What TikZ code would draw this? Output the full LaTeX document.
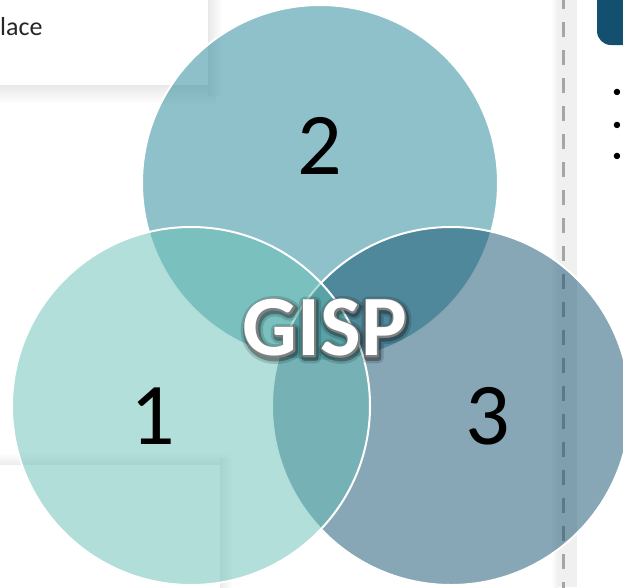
\documentclass[tikz,border=0pt]{standalone}
\usepackage{fontspec}
\setmainfont{Carlito}
\definecolor{vennone}{RGB}{101,191,181}
\definecolor{venntwo}{RGB}{31,131,149}
\definecolor{vennthree}{RGB}{17,79,109}
\definecolor{boxblue}{RGB}{19,80,111}
% stroke the glyph outlines (PDF text render mode 1)
\newcommand{\stroketext}[2]{\special{pdf:literal direct #1 w 1 j 1 Tr}#2\special{pdf:literal direct 0 Tr}}
\tikzset{venn/.style={fill=#1, fill opacity=0.5, draw=white, line width=2pt},
         num/.style={font=\fontsize{88}{90}\selectfont, text=black, inner sep=0pt},
         dot/.style={font=\fontsize{18}{20}\selectfont, inner sep=0pt},
         gisp/.style={font=\bfseries\fontsize{86}{90}\selectfont, inner sep=0pt}}

\begin{document}
\begin{tikzpicture}[x=1pt,y=-1pt]
\useasboundingbox (0,0) rectangle (623,587);
\clip (0,0) rectangle (623,587);
% cards with soft shadows
\fill[top color=black!9, bottom color=white] (0,85) rectangle (216,104);
\fill[left color=black!9, right color=white] (208,0) rectangle (222,95);
\fill[white] (0,0) rectangle (208,85);
\fill[bottom color=black!8, top color=white] (0,453) rectangle (230,465);
\fill[left color=black!8, right color=white] (220,458) rectangle (232,587);
\fill[white] (0,465) rectangle (220,587);
\node[anchor=base west, inner sep=0pt, font=\fontsize{26}{30}\selectfont, text=black!85] (lace) at (0,35) {lace};
% right column
\fill[left color=white, right color=black!6] (551,0) rectangle (558,587);
\fill[black!6] (558,0) rectangle (577,587);
\draw[black!35, line width=3pt, dash pattern=on 15pt off 13pt] (563,-6) -- (563,595);
\fill[boxblue, rounded corners=14pt] (597,-30) rectangle (650,45);
\foreach \y [count=\i] in {93,126,157}
  \node[dot] (dot\i) at (617,\y) {•};
% the three circles
\draw[venn=venntwo] (320,183) circle[radius=178];
\draw[venn=vennthree] (451,406) circle[radius=179];
\draw[venn=vennone] (191,406) circle[radius=179];
\node[num] (two) at (320,146) {2};
\node[num] (one) at (153,416) {1};
\node[num] (three) at (488,416) {3};
% label in the middle: soft shadow, grey outline, white letters
\node[gisp, text=black, text opacity=0.15] (gispglow) at (326,330) {\stroketext{11}{GISP}};
\node[gisp, text=black, text opacity=0.3] (gispshadow) at (326,330) {\stroketext{6}{GISP}};
\node[gisp, text=black!50] (gispline) at (325,328) {\stroketext{3}{GISP}};
\node[gisp, text=white] (gisp) at (325,328) {GISP};
\end{tikzpicture}
\end{document}
